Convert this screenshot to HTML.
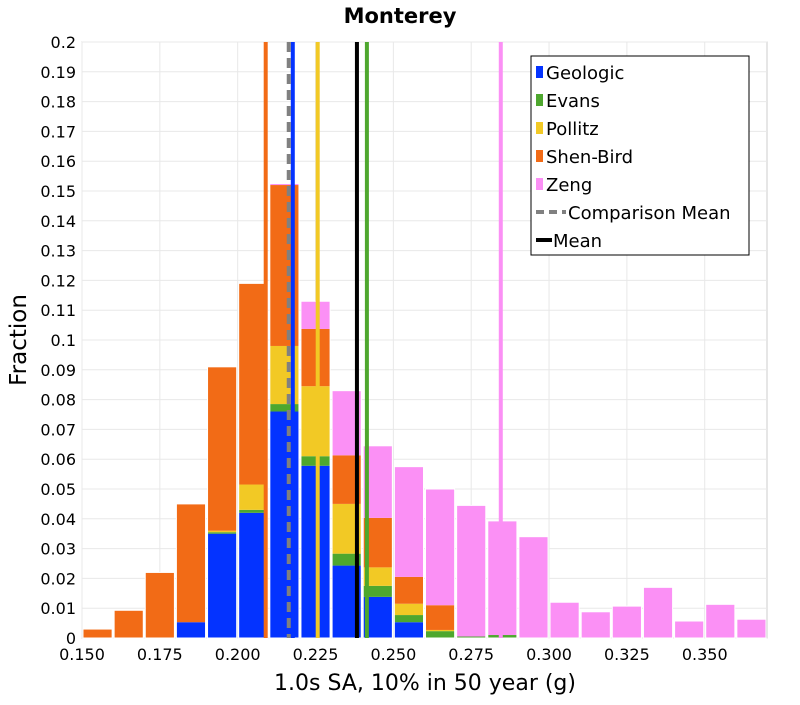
<!DOCTYPE html>
<html><head><meta charset="utf-8"><style>
body{margin:0;background:#fff;font-family:"Liberation Sans","DejaVu Sans",sans-serif}
</style></head><body>
<svg id="chart" width="800" height="700" xmlns="http://www.w3.org/2000/svg" font-family="DejaVu Sans, Liberation Sans, sans-serif"></svg>
<script>
const binStarts=[0.15,0.16,0.17,0.18,0.19,0.20,0.21,0.22,0.23,0.24,0.25,0.26,0.27,0.28,0.29,0.30,0.31,0.32,0.33,0.34,0.35,0.36];
const geologic=[0,0,0,0.0053,0.035,0.042,0.076,0.0578,0.0243,0.0138,0.0053,0,0,0,0,0,0,0,0,0,0,0];
const evans=[0,0,0,0,0.0005,0.001,0.0025,0.0032,0.004,0.0037,0.0024,0.0023,0.0005,0.001,0,0,0,0,0,0,0,0];
const pollitz=[0,0,0,0,0.0005,0.0085,0.0195,0.0235,0.0167,0.0062,0.0038,0.0004,0,0,0,0,0,0,0,0,0,0];
const shenBird=[0.003,0.0093,0.022,0.0397,0.055,0.0675,0.054,0.0192,0.0163,0.0166,0.009,0.0083,0,0,0,0,0,0,0,0,0,0];
const zeng=[0,0,0,0,0,0,0.0005,0.0093,0.0217,0.0242,0.037,0.039,0.044,0.0383,0.034,0.012,0.0088,0.0107,0.017,0.0057,0.0113,0.0063];
const seriesNames=["Geologic","Evans","Pollitz","Shen-Bird","Zeng"];
const seriesColors=["#0433ff","#4ea72e","#f2c925","#f26b16","#fb90f5"];
const meanValues=[0.2177,0.2415,0.2257,0.209,0.2845];
const comparisonMean=0.2164;
const overallMean=0.2383;
const xTicks=[0.150,0.175,0.200,0.225,0.250,0.275,0.300,0.325,0.350];
const yTicks=[0,0.01,0.02,0.03,0.04,0.05,0.06,0.07,0.08,0.09,0.1,0.11,0.12,0.13,0.14,0.15,0.16,0.17,0.18,0.19,0.2];

const svg=document.getElementById('chart');
const NS='http://www.w3.org/2000/svg';
const L=82,R=767,T=42,B=638;
const xMin=0.15,xMax=0.37,yMax=0.2;
const X=v=>L+(v-xMin)/(xMax-xMin)*(R-L);
const Y=v=>B-v/yMax*(B-T);
function mk(tag,attrs,parent){const e=document.createElementNS(NS,tag);for(const k in attrs)e.setAttribute(k,attrs[k]);(parent||svg).appendChild(e);return e;}

const t=mk('text',{x:400,y:23,'text-anchor':'middle','font-size':21,'font-weight':'bold',fill:'#000'});


t.textContent='Monterey';

mk('rect',{x:L,y:T,width:R-L,height:B-T,fill:'#fff',stroke:'#ccc'});
// grid
xTicks.forEach(v=>{const g=mk('line',{x1:X(v),x2:X(v),y1:T,y2:B,stroke:'#e8e8e8'});

});
yTicks.forEach(v=>{const g=mk('line',{x1:L,x2:R,y1:Y(v),y2:Y(v),stroke:'#e8e8e8'});


const lb=mk('text',{x:L-6,y:Y(v)+6,'text-anchor':'end','font-size':16,fill:'#000'});


lb.textContent=String(v);});
xTicks.forEach(v=>{const lb=mk('text',{x:X(v),y:B+22,'text-anchor':'middle','font-size':16,fill:'#000'});


lb.textContent=v.toFixed(3);});

// bars
const series=[geologic,evans,pollitz,shenBird,zeng];
binStarts.forEach((b,i)=>{let cum=0;series.forEach((s,si)=>{const h=s[i];if(h<=0)return;
const r=mk('rect',{x:X(b)+1,y:Y(cum+h),width:X(b+0.01)-X(b)-2,height:Y(cum)-Y(cum+h),fill:seriesColors[si]});


cum+=h;});
const o=mk('rect',{x:X(b)+1,y:Y(cum),width:X(b+0.01)-X(b)-2,height:Y(0)-Y(cum),fill:'none',stroke:'#fff','stroke-width':1});

});

// mean lines
meanValues.forEach((m,i)=>{const l=mk('line',{x1:X(m),x2:X(m),y1:T,y2:B,stroke:seriesColors[i],'stroke-width':4});

});
const cm=mk('line',{x1:X(comparisonMean),x2:X(comparisonMean),y1:T,y2:B,stroke:'#808080','stroke-width':4,'stroke-dasharray':'10,6'});


const om=mk('line',{x1:X(overallMean),x2:X(overallMean),y1:T,y2:B,stroke:'#000','stroke-width':4});



// axis titles
const xt=mk('text',{x:425,y:690,'text-anchor':'middle','font-size':22,fill:'#000'});


xt.textContent='1.0s SA, 10% in 50 year (g)';
const yt=mk('text',{x:0,y:0,'text-anchor':'middle','font-size':23,fill:'#000',transform:'translate(26,340) rotate(-90)'});


yt.textContent='Fraction';

// legend
const lg=mk('g',{});


mk('rect',{x:531,y:56,width:218,height:199,fill:'#fff',stroke:'#000'},lg);
const entries=seriesNames.map((n,i)=>({n,c:seriesColors[i],type:'box'})).concat([{n:'Comparison Mean',c:'#808080',type:'dash'},{n:'Mean',c:'#000',type:'line'}]);
entries.forEach((e,i)=>{const yy=72+i*28;const g=mk('g',{},lg);


if(e.type==='box')mk('rect',{x:536,y:yy-6,width:7,height:12,fill:e.c},g);
else if(e.type==='dash')mk('line',{x1:536,x2:566,y1:yy,y2:yy,stroke:e.c,'stroke-width':4,'stroke-dasharray':'8,5'},g);
else mk('line',{x1:536,x2:552,y1:yy,y2:yy,stroke:e.c,'stroke-width':4},g);
const tx=mk('text',{x:e.type==='box'?546:(e.type==='dash'?568:553),y:yy+7,'font-size':18,fill:'#000'},g);tx.textContent=e.n;});
</script>
</body></html>
